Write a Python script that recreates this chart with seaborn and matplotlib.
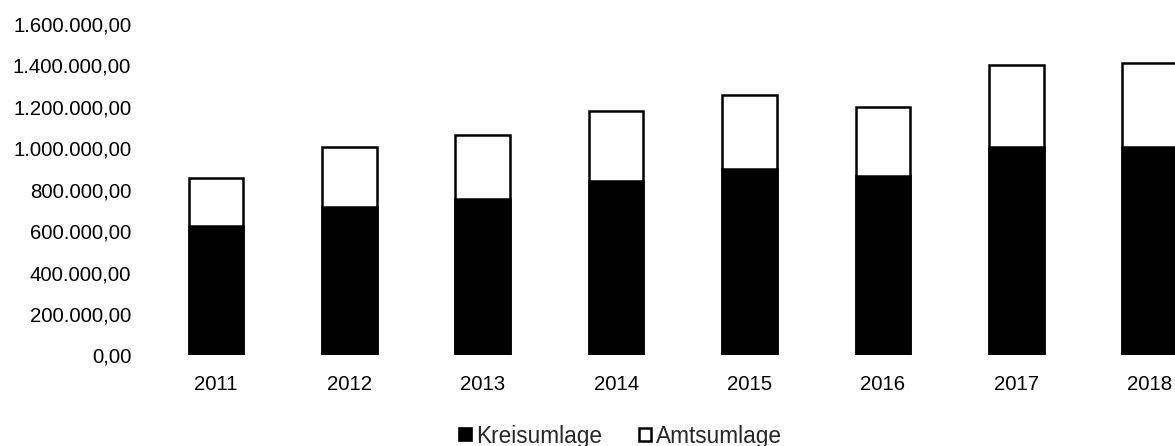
import matplotlib
matplotlib.use("Agg")
import matplotlib.pyplot as plt
from matplotlib.ticker import FuncFormatter
from matplotlib.patches import Patch
import seaborn as sns
import pandas as pd

years = ["2011", "2012", "2013", "2014", "2015", "2016", "2017", "2018"]
kreisumlage = [623000, 715000, 753000, 839000, 900000, 864000, 1004000, 1007000]
amtsumlage = [235000, 292000, 310000, 338000, 356000, 336000, 397000, 405000]
series_names = ["Kreisumlage", "Amtsumlage"]
yticks = [0, 200000, 400000, 600000, 800000, 1000000, 1200000, 1400000, 1600000]

sns.set_theme(style="white")
plt.rcParams["font.family"] = ["Liberation Sans", "DejaVu Sans"]

df = pd.DataFrame({"Jahr": years, "Kreis": kreisumlage, "Amts": amtsumlage})
df["Gesamt"] = df["Kreis"] + df["Amts"]

fig = plt.figure(figsize=(11.75, 4.46), dpi=100)
fig.patch.set_facecolor("white")
ax = fig.add_axes([149.3 / 1175, 0.203, 1 - 149.3 / 1175, 0.744])

sns.barplot(data=df, x="Jahr", y="Gesamt", color="white", edgecolor="black",
            linewidth=1.8, width=0.41, ax=ax, saturation=1)
sns.barplot(data=df, x="Jahr", y="Kreis", color="black", edgecolor="black",
            linewidth=1.8, width=0.41, ax=ax, saturation=1)

ax.set_xlim(-0.5, 7.19)
ax.set_ylim(0, 1600000)
ax.set_yticks(yticks)


def de_fmt(v, pos):
    s = f"{v:,.2f}"
    return s.replace(",", "X").replace(".", ",").replace("X", ".")


ax.yaxis.set_major_formatter(FuncFormatter(de_fmt))
ax.set_xlabel("")
ax.set_ylabel("")
for s in ax.spines.values():
    s.set_visible(False)
ax.grid(False)
ax.tick_params(axis="y", length=0, pad=13, labelsize=14.7, colors="black")
ax.tick_params(axis="x", length=0, pad=14, labelsize=14.7, colors="black")
ax.set_facecolor("white")

handles = [Patch(facecolor="black", edgecolor="black", linewidth=1.2),
           Patch(facecolor="white", edgecolor="black", linewidth=1.8)]
fig.legend(handles, series_names, loc="center", bbox_to_anchor=(0.528, 0.022),
           ncol=2, frameon=False, fontsize=16.3, handlelength=0.55, handleheight=0.55,
           handletextpad=0.2, columnspacing=1.6, borderaxespad=0)

fig.savefig("out.png", dpi=100, facecolor="white")
